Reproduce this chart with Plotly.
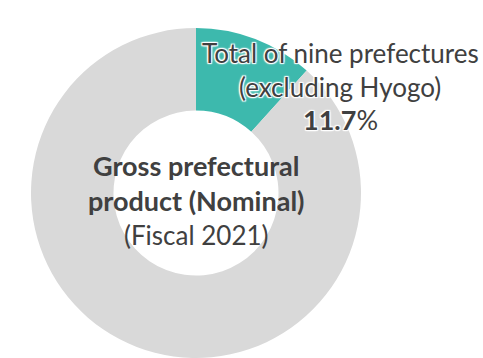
import plotly.graph_objects as go

# Share of nominal gross prefectural product, fiscal 2021
segments = ["Total of nine prefectures (excluding Hyogo)", "Other"]
shares = [11.7, 88.3]
colors = ["#3DB9AD", "#D9D9D9"]

label_lines = ["Total of nine prefectures", "(excluding Hyogo)"]
center_lines = ["Gross prefectural", "product (Nominal)", "(Fiscal 2021)"]

W, H = 483, 358
FONT = "Lato, 'Noto Sans', sans-serif"
TEXT = "#404040"
HALO = ("1px 1px 1px #fff, -1px -1px 1px #fff, 1px -1px 1px #fff, "
        "-1px 1px 1px #fff, 0 0 3px #fff")

fig = go.Figure(go.Pie(
    labels=segments,
    values=shares,
    marker=dict(colors=colors, line=dict(width=0)),
    hole=0.5,
    sort=False,
    direction="clockwise",
    rotation=0,
    textinfo="none",
    hoverinfo="label+percent",
    domain=dict(x=[31 / W, 361 / W], y=[0, 330 / H]),
    showlegend=False,
))


def px(x, y):
    return x / W, 1 - y / H


annotations = []
for i, line in enumerate(label_lines):
    x, y = px(340, 53 + 34 * i)
    annotations.append(dict(text=line, x=x, y=y, xref="paper", yref="paper",
                            xanchor="center", yanchor="middle", showarrow=False,
                            font=dict(family=FONT, size=26, color=TEXT, shadow=HALO)))
x, y = px(340, 120)
annotations.append(dict(text=f"<b>{shares[0]}</b>%", x=x, y=y, xref="paper", yref="paper",
                        xanchor="center", yanchor="middle", showarrow=False,
                        font=dict(family=FONT, size=27, color=TEXT, shadow=HALO)))
for i, line in enumerate(center_lines):
    x, y = px(196, 165 + 35 * i)
    txt = f"<b>{line}</b>" if i < 2 else line
    annotations.append(dict(text=txt, x=x, y=y, xref="paper", yref="paper",
                            xanchor="center", yanchor="middle", showarrow=False,
                            font=dict(family=FONT, size=27 if i < 2 else 26, color=TEXT)))

fig.update_layout(
    margin=dict(l=0, r=0, t=0, b=0),
    paper_bgcolor="white",
    plot_bgcolor="white",
    annotations=annotations,
)

fig.write_html("out.html")
